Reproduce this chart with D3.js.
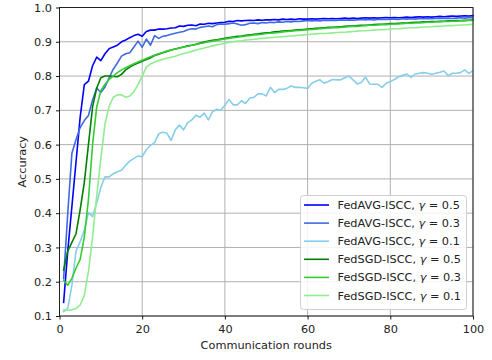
<!DOCTYPE html>
<html><head><meta charset="utf-8">
<script src="https://cdn.jsdelivr.net/npm/d3@7"></script>
<style>body{margin:0;background:#fff}svg{display:block;font-family:"DejaVu Sans",sans-serif}</style>
</head><body><svg id="c" width="492" height="360"></svg>
<script>
const rounds = d3.range(1, 101);
const xTicks = [0, 20, 40, 60, 80, 100];
const yTicks = [0.1, 0.2, 0.3, 0.4, 0.5, 0.6, 0.7, 0.8, 0.9, 1.0];
const seriesNames = ["FedAVG-ISCC", "FedAVG-ISCC", "FedAVG-ISCC", "FedSGD-ISCC", "FedSGD-ISCC", "FedSGD-ISCC"];
const gammas = ["0.5", "0.3", "0.1", "0.5", "0.3", "0.1"];
const colors = ["#0000ff", "#4169e1", "#87ceeb", "#008000", "#32cd32", "#90ee90"];

const avg05 = [0.14,0.29,0.42,0.55,0.68,0.775,0.785,0.83,0.855,0.845,
0.865,0.88,0.885,0.89,0.90,0.905,0.912,0.918,0.922,0.916,
0.93,0.934,0.934,0.937,0.937,0.938,0.94,0.941,0.946,0.945,
0.948,0.949,0.947,0.952,0.951,0.954,0.953,0.955,0.956,0.957,
0.96,0.959,0.962,0.961,0.962,0.963,0.962,0.964,0.963,0.964,
0.964,0.965,0.964,0.966,0.965,0.966,0.965,0.967,0.966,0.966,
0.967,0.966,0.967,0.968,0.967,0.968,0.967,0.968,0.969,0.968,
0.969,0.968,0.969,0.97,0.969,0.97,0.969,0.97,0.971,0.97,
0.971,0.97,0.971,0.972,0.971,0.972,0.973,0.972,0.973,0.972,
0.973,0.974,0.973,0.974,0.975,0.974,0.975,0.976,0.975,0.976];
const avg03 = [0.21,0.40,0.575,0.615,0.65,0.67,0.685,0.73,0.765,0.752,
0.768,0.795,0.82,0.838,0.858,0.865,0.868,0.885,0.902,0.884,
0.908,0.89,0.918,0.91,0.916,0.918,0.922,0.925,0.928,0.93,
0.935,0.938,0.937,0.942,0.944,0.946,0.944,0.95,0.952,0.951,
0.953,0.955,0.952,0.948,0.95,0.954,0.955,0.953,0.956,0.955,
0.957,0.956,0.958,0.957,0.959,0.958,0.96,0.959,0.961,0.962,
0.961,0.962,0.961,0.963,0.962,0.963,0.962,0.964,0.963,0.964,
0.963,0.964,0.965,0.964,0.965,0.964,0.965,0.966,0.965,0.966,
0.966,0.965,0.967,0.966,0.967,0.966,0.968,0.967,0.968,0.967,
0.968,0.969,0.968,0.969,0.968,0.969,0.97,0.969,0.97,0.97];
const avg01 = [0.113,0.122,0.19,0.29,0.317,0.35,0.402,0.39,0.43,0.475,
0.506,0.506,0.515,0.521,0.525,0.54,0.552,0.56,0.567,0.565,
0.585,0.598,0.606,0.632,0.636,0.633,0.612,0.643,0.657,0.643,
0.664,0.672,0.686,0.68,0.692,0.672,0.696,0.703,0.70,0.715,
0.732,0.716,0.716,0.728,0.72,0.735,0.738,0.748,0.748,0.742,
0.767,0.752,0.761,0.761,0.764,0.771,0.767,0.767,0.766,0.764,
0.779,0.785,0.789,0.779,0.784,0.79,0.789,0.789,0.795,0.80,
0.789,0.777,0.781,0.797,0.777,0.776,0.776,0.767,0.779,0.784,
0.79,0.798,0.802,0.806,0.796,0.806,0.808,0.81,0.808,0.805,
0.808,0.811,0.815,0.801,0.808,0.808,0.81,0.818,0.808,0.816];
const sgd05 = [0.234,0.29,0.315,0.34,0.41,0.49,0.60,0.71,0.765,0.795,
0.80,0.80,0.799,0.798,0.805,0.818,0.826,0.833,0.838,0.843,
0.848,0.853,0.86,0.864,0.868,0.872,0.876,0.879,0.882,0.885,
0.888,0.89,0.893,0.896,0.899,0.902,0.904,0.906,0.908,0.91,
0.912,0.914,0.916,0.917,0.919,0.92,0.922,0.923,0.925,0.926,
0.927,0.929,0.93,0.931,0.932,0.933,0.934,0.935,0.936,0.937,
0.938,0.939,0.94,0.941,0.942,0.942,0.943,0.944,0.945,0.946,
0.946,0.947,0.948,0.948,0.949,0.95,0.951,0.951,0.952,0.953,
0.953,0.954,0.955,0.955,0.956,0.957,0.957,0.958,0.958,0.959,
0.959,0.96,0.96,0.961,0.961,0.962,0.962,0.963,0.963,0.964];
const sgd03 = [0.205,0.19,0.21,0.24,0.265,0.33,0.44,0.60,0.71,0.757,
0.776,0.79,0.80,0.81,0.818,0.824,0.83,0.836,0.841,0.846,
0.851,0.856,0.861,0.865,0.869,0.873,0.876,0.879,0.882,0.885,
0.887,0.89,0.892,0.895,0.897,0.9,0.902,0.904,0.906,0.908,
0.91,0.912,0.913,0.915,0.917,0.918,0.92,0.921,0.922,0.924,
0.925,0.926,0.927,0.929,0.93,0.931,0.932,0.933,0.934,0.935,
0.936,0.937,0.938,0.939,0.94,0.941,0.941,0.942,0.943,0.944,
0.945,0.945,0.946,0.947,0.948,0.948,0.949,0.95,0.95,0.951,
0.952,0.952,0.953,0.954,0.954,0.955,0.955,0.956,0.957,0.957,
0.958,0.958,0.959,0.959,0.96,0.96,0.961,0.961,0.962,0.962];
const sgd01 = [0.118,0.117,0.118,0.122,0.132,0.16,0.23,0.33,0.45,0.56,
0.66,0.712,0.738,0.745,0.745,0.738,0.742,0.755,0.775,0.80,
0.826,0.835,0.841,0.845,0.849,0.852,0.855,0.858,0.862,0.866,
0.869,0.872,0.876,0.879,0.882,0.885,0.888,0.891,0.893,0.896,
0.898,0.9,0.902,0.903,0.905,0.906,0.907,0.909,0.91,0.911,
0.912,0.913,0.914,0.915,0.916,0.917,0.918,0.919,0.92,0.921,
0.922,0.923,0.924,0.924,0.925,0.926,0.927,0.928,0.928,0.929,
0.93,0.931,0.932,0.932,0.933,0.934,0.935,0.935,0.936,0.937,
0.938,0.938,0.939,0.94,0.941,0.941,0.942,0.943,0.943,0.944,
0.945,0.945,0.946,0.947,0.947,0.948,0.949,0.949,0.95,0.951];

const allSeries = [avg05, avg03, avg01, sgd05, sgd03, sgd01];

const FS = 11.3;
const L = 59.5, R = 473, T = 7.5, B = 316;
const svg = d3.select("#c");
const x = d3.scaleLinear().domain([0, 100]).range([L, R]);
const y = d3.scaleLinear().domain([0.1, 1.0]).range([B, T]);

// grid
const grid = svg.append("g");
grid.selectAll("line.gx").data(xTicks).join("line")
  .attr("x1", d => x(d)).attr("x2", d => x(d)).attr("y1", T).attr("y2", B)
  .attr("stroke", "#b0b0b0").attr("stroke-width", 1);
grid.selectAll("line.gy").data(yTicks).join("line")
  .attr("x1", L).attr("x2", R).attr("y1", d => y(d)).attr("y2", d => y(d))
  .attr("stroke", "#b0b0b0").attr("stroke-width", 1);

// lines
const line = d3.line().x((d, i) => x(rounds[i])).y(d => y(d));
svg.append("g").selectAll("path").data(allSeries).join("path")
  .attr("d", line).attr("fill", "none")
  .attr("stroke", (d, i) => colors[i]).attr("stroke-width", 1.6)
  .attr("stroke-linejoin", "round").attr("stroke-linecap", "square");

// frame
svg.append("rect").attr("x", L).attr("y", T).attr("width", R - L).attr("height", B - T)
  .attr("fill", "none").attr("stroke", "#222").attr("stroke-width", 1);

// axes
const xAxis = d3.axisBottom(x).tickValues(xTicks).tickSize(3.5).tickPadding(5.5).tickFormat(d3.format("d"));
const gx = svg.append("g").attr("transform", `translate(0,${B})`).call(xAxis);
const yAxis = d3.axisLeft(y).tickValues(yTicks).tickSize(3.5).tickPadding(4).tickFormat(d3.format(".1f"));
const gy = svg.append("g").attr("transform", `translate(${L},0)`).call(yAxis);
[gx, gy].forEach(g => {
  g.select(".domain").remove();
  g.selectAll("line").attr("stroke", "#000").attr("stroke-width", 0.9);
  g.selectAll("text").attr("font-family", "DejaVu Sans").attr("font-size", FS).attr("fill", "#222");
});

svg.append("text").attr("x", (L + R) / 2).attr("y", 349).attr("text-anchor", "middle")
  .attr("font-size", FS).attr("fill", "#222").text("Communication rounds");
svg.append("text").attr("transform", `translate(26,${(T + B) / 2}) rotate(-90)`).attr("text-anchor", "middle")
  .attr("font-size", FS).attr("fill", "#222").text("Accuracy");

// legend
const lg = svg.append("g");
lg.append("rect").attr("x", 300.5).attr("y", 195.5).attr("width", 166).attr("height", 114).attr("rx", 3)
  .attr("fill", "#fff").attr("fill-opacity", 0.85).attr("stroke", "#d0d0d0").attr("stroke-width", 1);
const items = lg.selectAll("g.it").data(seriesNames).join("g").attr("class", "it")
  .attr("transform", (d, i) => `translate(0,${205 + i * 18.1})`);
items.append("line").attr("x1", 304).attr("x2", 329).attr("y1", 0).attr("y2", 0)
  .attr("stroke", (d, i) => colors[i]).attr("stroke-width", 1.6);
const tx = items.append("text").attr("x", 337.5).attr("y", 4).attr("font-size", FS).attr("fill", "#222");
tx.append("tspan").text(d => d + ", ");
tx.append("tspan").attr("font-style", "italic").text("γ");
tx.append("tspan").text((d, i) => " = " + gammas[i]);
</script></body></html>
